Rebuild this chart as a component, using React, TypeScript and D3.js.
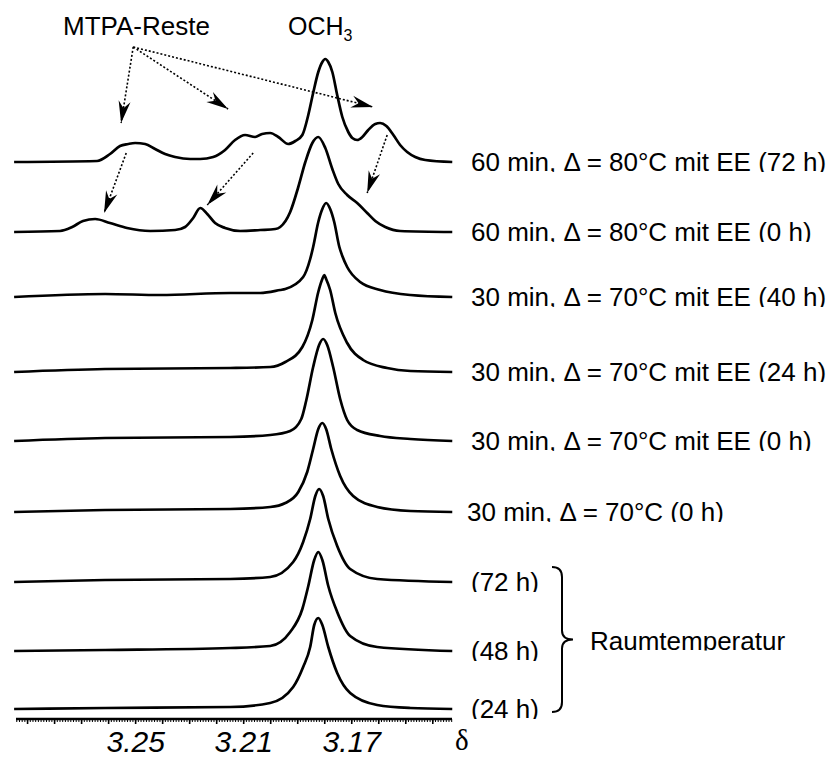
import { useEffect, useRef } from "react";
import * as d3 from "d3";

type Pt = [number, number];

// spectra from top to bottom: [δ in ppm, intensity a.u.]
const s80EE72: Pt[] = [
  [3.2948, 0], [3.2641, 1], [3.2593, 8], [3.2556, 16], [3.2526, 18], [3.25, 19], [3.2463, 18],
  [3.2426, 13], [3.2389, 8], [3.2352, 5], [3.2296, 3], [3.2259, 3], [3.2211, 5], [3.2167, 12],
  [3.213, 22], [3.2093, 27], [3.2056, 25], [3.203, 28], [3.2, 29], [3.197, 25], [3.1933, 18],
  [3.1907, 21], [3.1881, 27], [3.1859, 47], [3.1841, 69], [3.1822, 90], [3.1807, 100],
  [3.1796, 103], [3.1785, 100], [3.177, 90], [3.1752, 67], [3.1733, 45], [3.1711, 30],
  [3.1696, 24], [3.1678, 22], [3.1659, 25], [3.1637, 32], [3.1611, 38], [3.1593, 39],
  [3.157, 36], [3.1544, 27], [3.1519, 17], [3.1493, 10], [3.1463, 5], [3.1426, 2], [3.1326, 0],
];
const s80EE0: Pt[] = [
  [3.2948, 0], [3.2778, 1], [3.2733, 5], [3.2693, 11], [3.2648, 13], [3.2593, 9], [3.253, 4],
  [3.2444, 1], [3.2352, 2], [3.2315, 5], [3.2285, 14], [3.2259, 24], [3.2233, 18], [3.2204, 9],
  [3.2167, 4], [3.2111, 1], [3.2037, 2], [3.1981, 3], [3.1963, 5],
  [3.1926, 20], [3.1896, 45], [3.187, 70], [3.1844, 89], [3.1822, 95], [3.1796, 84],
  [3.177, 63], [3.1748, 48], [3.1715, 37], [3.1678, 29], [3.1641, 19], [3.1611, 11],
  [3.1574, 5], [3.1519, 1], [3.1326, 0],
];
const s70EE40: Pt[] = [
  [3.2948, 0], [3.2611, 3], [3.2407, 2], [3.2148, 4], [3.2037, 4], [3.1963, 7], [3.1944, 8],
  [3.1878, 20], [3.1852, 38], [3.1841, 50], [3.1822, 75], [3.1807, 88], [3.1793, 94],
  [3.1778, 88], [3.1763, 75], [3.1744, 50], [3.1733, 41], [3.1715, 30], [3.1667, 15],
  [3.1593, 7], [3.1481, 2], [3.1326, 0],
];
const s70EE24: Pt[] = [
  [3.2948, 0], [3.2611, 3], [3.2148, 4], [3.2, 5], [3.1944, 10], [3.1881, 25], [3.1844, 52],
  [3.1822, 80], [3.1807, 93], [3.18, 97], [3.1793, 93], [3.1778, 82], [3.1759, 59],
  [3.1715, 29], [3.1656, 12], [3.1567, 4], [3.1481, 1], [3.1326, 0],
];
const s70EE0: Pt[] = [
  [3.2948, 0], [3.2611, 3], [3.2148, 4], [3.2, 6], [3.1926, 10], [3.1885, 22], [3.1867, 40],
  [3.1841, 74], [3.1819, 96], [3.1804, 102], [3.1789, 96], [3.1767, 74], [3.1741, 42],
  [3.1715, 21], [3.1678, 11], [3.1593, 5], [3.1481, 2], [3.1326, 0],
];
const s70: Pt[] = [
  [3.2948, 0], [3.2611, 2], [3.2148, 3], [3.2, 5], [3.1944, 9], [3.1896, 20], [3.1863, 40],
  [3.1841, 63], [3.1822, 83], [3.1807, 89], [3.1793, 83], [3.1774, 63], [3.1741, 36],
  [3.1693, 16], [3.1604, 5], [3.1481, 1], [3.1326, 0],
];
const rt72: Pt[] = [
  [3.2948, 0], [3.2611, 2], [3.2148, 3], [3.2, 5], [3.1915, 20], [3.1878, 40], [3.1852, 63],
  [3.1833, 86], [3.1819, 93], [3.1804, 86], [3.1785, 63], [3.1752, 36], [3.1704, 13],
  [3.1604, 3], [3.1326, 0],
];
const rt48: Pt[] = [
  [3.2948, 0], [3.2611, 1], [3.2148, 3], [3.2, 5], [3.1926, 19], [3.1881, 42], [3.1859, 65],
  [3.1837, 91], [3.1822, 99], [3.1807, 91], [3.1785, 65], [3.1752, 39], [3.1704, 15],
  [3.1604, 4], [3.1326, 0],
];
const rt24: Pt[] = [
  [3.2948, 0], [3.2611, 1], [3.2148, 2], [3.2, 6], [3.1915, 22], [3.1878, 42], [3.1852, 62],
  [3.1837, 84], [3.1822, 91], [3.1807, 84], [3.1785, 62], [3.1752, 36], [3.1704, 16],
  [3.1604, 4], [3.1481, 1], [3.1326, 0],
];

const spectra = [s80EE72, s80EE0, s70EE40, s70EE24, s70EE0, s70, rt72, rt48, rt24];
// stacking offset of each spectrum (a.u.)
const offsets = [547, 477, 412, 337, 268, 197, 127, 58, 0];
const labels = [
  "60 min, \u0394 = 80°C mit EE (72 h)",
  "60 min, \u0394 = 80°C mit EE (0 h)",
  "30 min, \u0394 = 70°C mit EE (40 h)",
  "30 min, \u0394 = 70°C mit EE (24 h)",
  "30 min, \u0394 = 70°C mit EE (0 h)",
  "30 min, \u0394 = 70°C (0 h)",
  "(72 h)",
  "(48 h)",
  "(24 h)",
];

const majorTicks = [3.29, 3.28, 3.27, 3.26, 3.25, 3.24, 3.23, 3.22, 3.21, 3.2, 3.19, 3.18, 3.17, 3.16, 3.15, 3.14];
const tickLabels = [3.25, 3.21, 3.17];

// MTPA annotation arrows: [δ, level a.u.]
const arrowFrom: Pt[] = [[3.2507, 662], [3.2507, 662], [3.2507, 662], [3.2533, 556], [3.2063, 556], [3.1567, 574]];
const arrowTo: Pt[] = [[3.2552, 586], [3.2156, 600], [3.1619, 602], [3.2615, 496], [3.2233, 504], [3.1641, 516]];

const FONT = "'Liberation Sans', Arial, Helvetica, sans-serif";
const W = 837;
const H = 758;

export default function App() {
  const ref = useRef<SVGSVGElement>(null);

  useEffect(() => {
    const el = ref.current;
    if (!el) return;
    const svg = d3.select(el);
    svg.selectAll("*").remove();

    const x = d3.scaleLinear().domain([3.2941, 3.1327]).range([16, 452]);
    const y = d3.scaleLinear().domain([0, 547]).range([709, 162]);

    const defs = svg.append("defs");
    defs.append("marker")
      .attr("id", "stealth")
      .attr("markerUnits", "userSpaceOnUse")
      .attr("viewBox", "-23 -7 24 14")
      .attr("refX", 0).attr("refY", 0)
      .attr("markerWidth", 24).attr("markerHeight", 14)
      .attr("orient", "auto")
      .append("path")
      .attr("d", "M0,0 L-22,-6 L-15,0 L-22,6 Z")
      .attr("fill", "#000");

    // spectra
    const line = d3.line<Pt>().curve(d3.curveMonotoneX);
    spectra.forEach((s, i) => {
      line.x((d) => x(d[0])).y((d) => y(d[1] + offsets[i]));
      svg.append("path")
        .attr("d", line(s))
        .attr("fill", "none")
        .attr("stroke", "#000")
        .attr("stroke-width", 2.7)
        .attr("stroke-linejoin", "round");
    });

    // labels (bottom of glyphs cut off, as in the original)
    labels.forEach((l, i) => {
      const base = y(offsets[i]) + 9;
      defs.append("clipPath").attr("id", `lc${i}`)
        .append("rect").attr("x", 440).attr("y", base - 30).attr("width", 400).attr("height", 31);
      svg.append("text")
        .attr("clip-path", `url(#lc${i})`)
        .attr("x", i === 5 ? 467 : 471)
        .attr("y", base)
        .attr("font-family", FONT)
        .attr("font-size", 26)
        .text(l);
    });

    // brace for room-temperature spectra
    const bt = y(offsets[6]) - 15;
    const bb = y(offsets[8]) + 3;
    const bm = (bt + bb) / 2;
    const bx = 552;
    svg.append("path")
      .attr("d", `M${bx},${bt} Q${bx + 10},${bt} ${bx + 10},${bt + 10} L${bx + 10},${bm - 9} Q${bx + 10},${bm} ${bx + 21},${bm} Q${bx + 10},${bm} ${bx + 10},${bm + 9} L${bx + 10},${bb - 10} Q${bx + 10},${bb} ${bx},${bb}`)
      .attr("fill", "none").attr("stroke", "#000").attr("stroke-width", 2);
    defs.append("clipPath").attr("id", "rtc")
      .append("rect").attr("x", 580).attr("y", bm - 25).attr("width", 250).attr("height", 36);
    svg.append("text")
      .attr("clip-path", "url(#rtc)")
      .attr("x", 590).attr("y", bm + 10)
      .attr("font-family", FONT).attr("font-size", 26)
      .text("Raumtemperatur");

    // axis
    const axY = 719;
    const minor = d3.range(3133, 3295).map((v) => v / 1000);
    svg.append("g")
      .attr("transform", `translate(0,${axY})`)
      .call(d3.axisBottom(x).tickValues(minor).tickSize(3).tickFormat(() => ""))
      .call((g) => g.select(".domain").remove())
      .call((g) => g.selectAll(".tick line").attr("stroke", "#000").attr("stroke-width", 1));
    svg.append("g")
      .attr("transform", `translate(0,${axY})`)
      .call(d3.axisBottom(x).tickValues(majorTicks).tickSize(5).tickFormat(() => ""))
      .call((g) => g.select(".domain").remove())
      .call((g) => g.selectAll(".tick line").attr("stroke", "#000").attr("stroke-width", 1.6));
    svg.append("line")
      .attr("x1", 16).attr("x2", 452).attr("y1", axY).attr("y2", axY)
      .attr("stroke", "#000").attr("stroke-width", 2.6);
    svg.append("g")
      .attr("transform", `translate(0,${axY})`)
      .call(d3.axisBottom(x).tickValues(tickLabels).tickSize(0).tickFormat(d3.format(".2f")))
      .call((g) => g.select(".domain").remove())
      .call((g) => g.selectAll(".tick text")
        .attr("y", 33).attr("dy", 0)
        .attr("fill", "#000")
        .attr("font-family", FONT)
        .attr("font-style", "italic")
        .attr("font-size", 30));
    svg.append("text")
      .attr("x", 455).attr("y", 750)
      .attr("font-family", "'Liberation Serif', 'Times New Roman', serif")
      .attr("font-size", 29)
      .text("\u03b4");

    // headings
    svg.append("text")
      .attr("x", 63).attr("y", 35)
      .attr("font-family", FONT).attr("font-size", 26)
      .text("MTPA-Reste");
    const och = svg.append("text")
      .attr("x", 288).attr("y", 35)
      .attr("font-family", FONT).attr("font-size", 25);
    och.append("tspan").text("OCH");
    och.append("tspan").attr("font-size", 16).attr("dy", 6).text("3");

    // dotted arrows
    arrowFrom.forEach((f, i) => {
      const t = arrowTo[i];
      svg.append("line")
        .attr("x1", x(f[0])).attr("y1", y(f[1]))
        .attr("x2", x(t[0])).attr("y2", y(t[1]))
        .attr("stroke", "#000")
        .attr("stroke-width", 1.6)
        .attr("stroke-dasharray", "2,2")
        .attr("marker-end", "url(#stealth)");
    });
  }, []);

  return (
    <div style={{ position: "absolute", left: 0, top: 0, background: "#fff" }}>
      <svg ref={ref} width={W} height={H} style={{ display: "block" }} />
    </div>
  );
}
